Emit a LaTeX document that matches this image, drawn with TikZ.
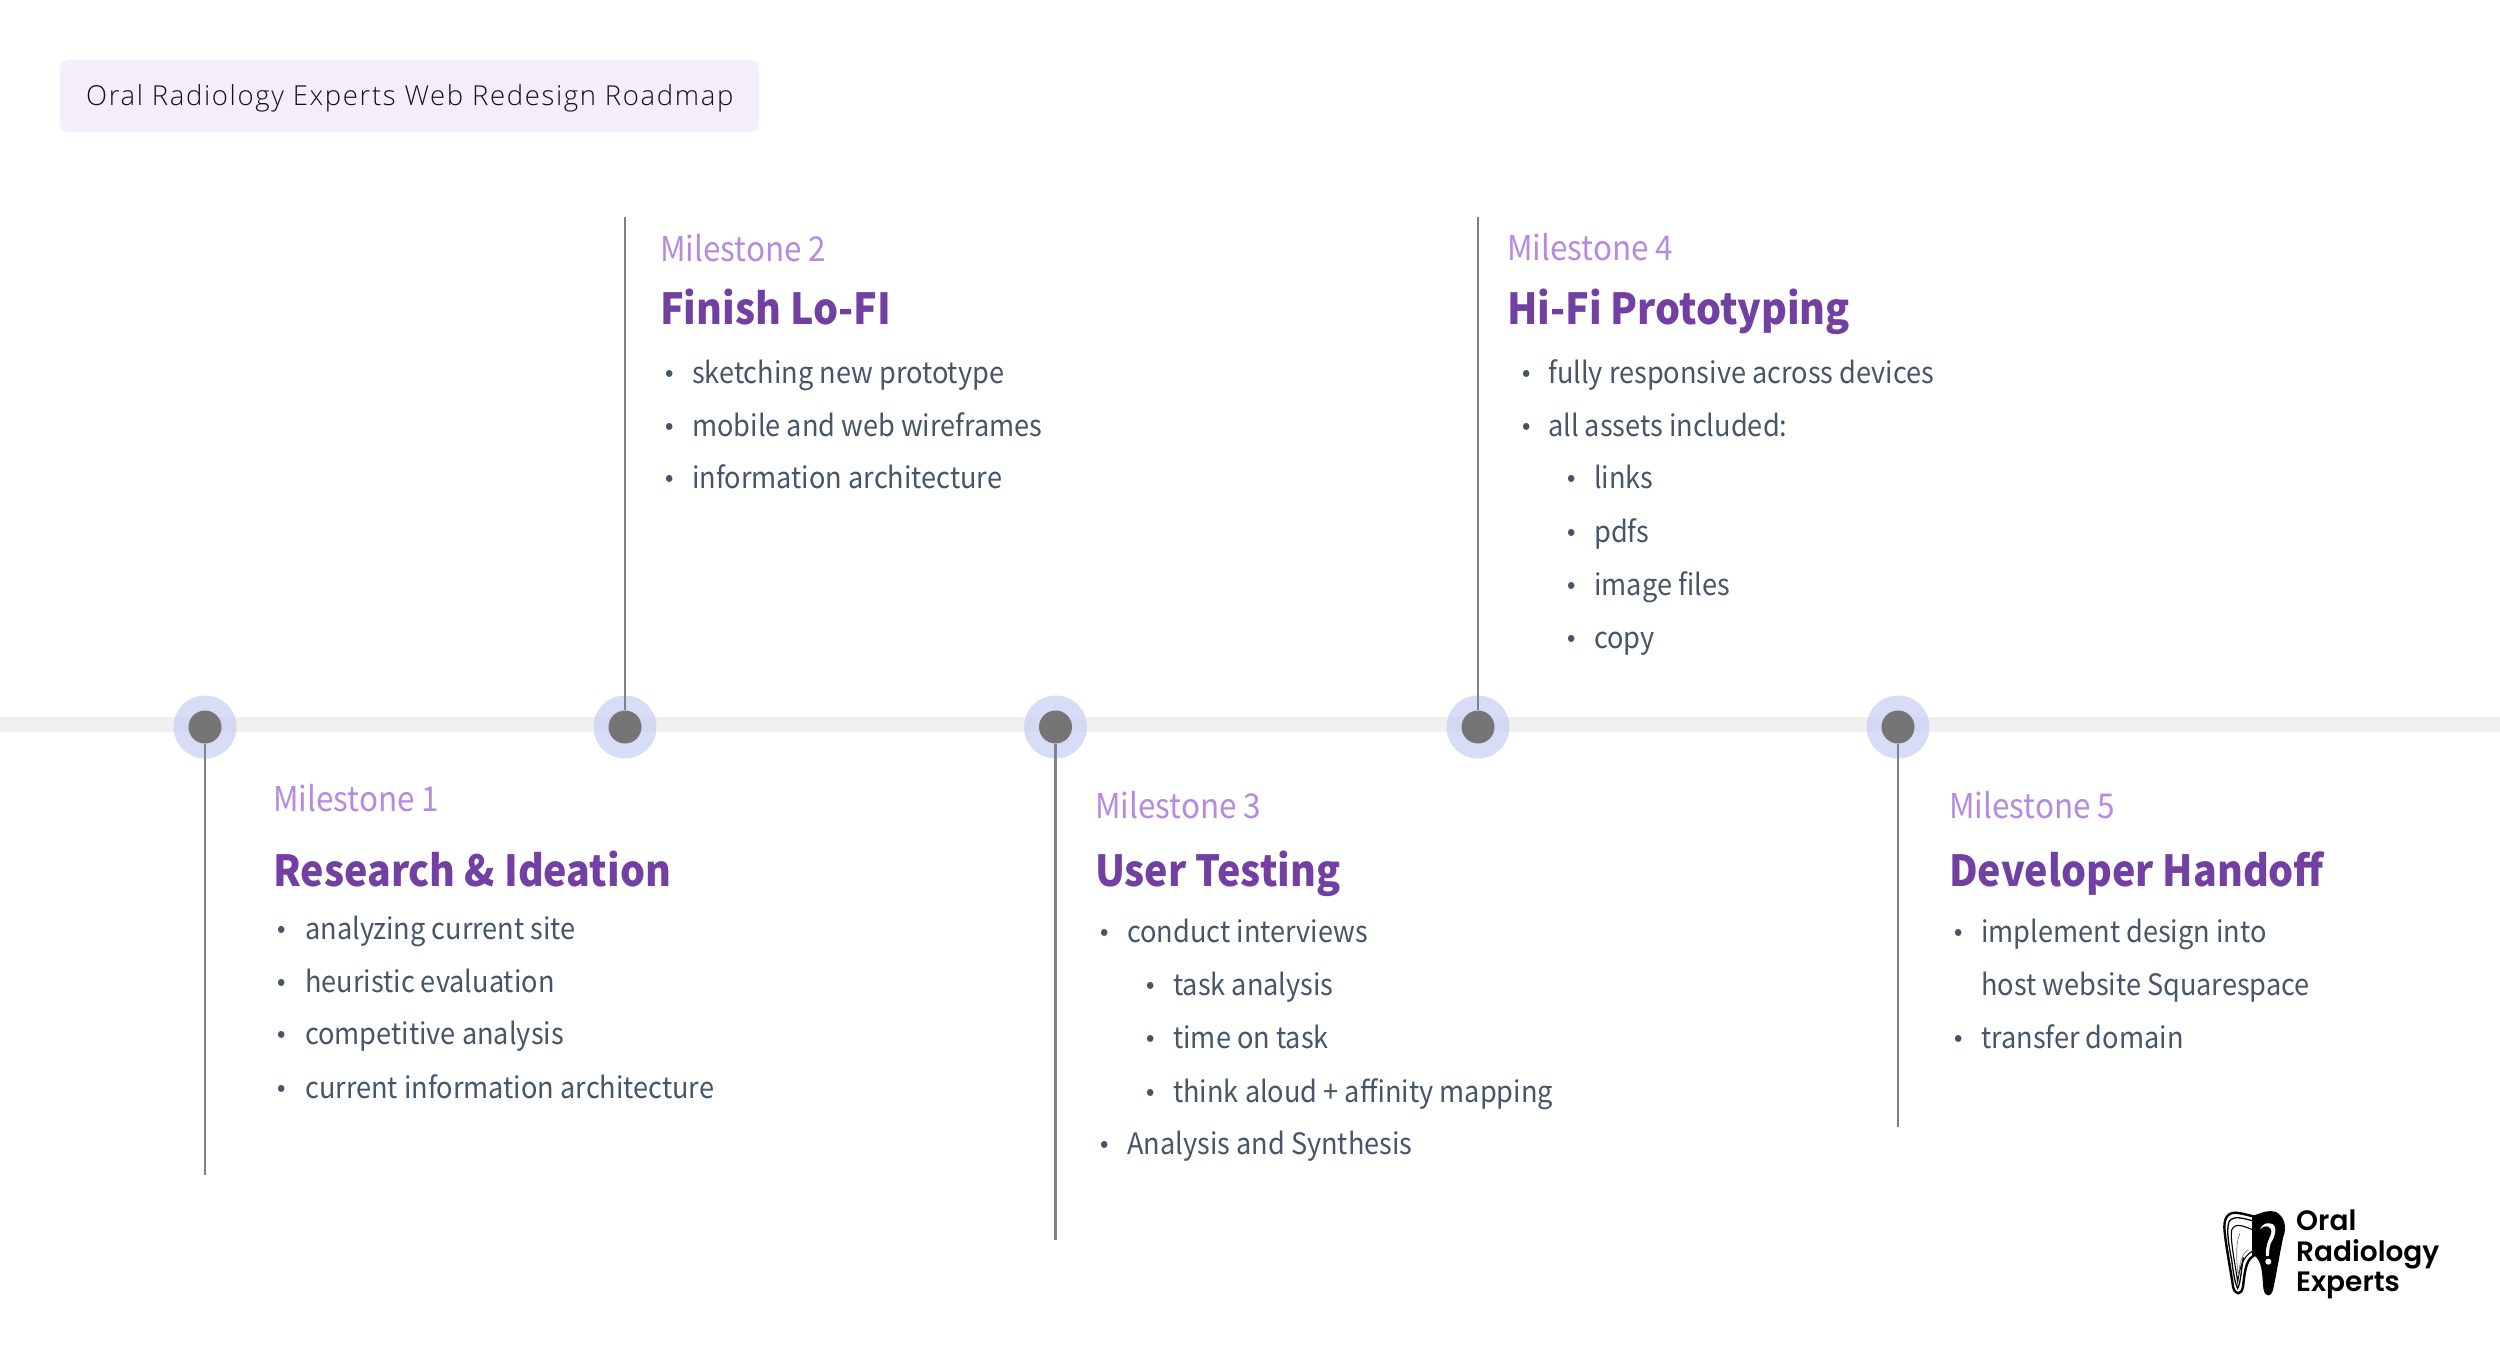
\documentclass[tikz,border=0pt]{standalone}
\usepackage{fontspec}
\setmainfont[FakeStretch=0.92]{Noto Sans CJK SC}
\newfontfamily\hdfont[LetterSpace=6]{Open Sans Light}
\newfontfamily\logofont{Poppins SemiBold}
\definecolor{bandc}{HTML}{F0F0F0}
\definecolor{haloc}{HTML}{C3CBF4}
\definecolor{dotc}{HTML}{757575}
\definecolor{linec}{HTML}{828282}
\definecolor{labelc}{HTML}{B58AE0}
\definecolor{headc}{HTML}{7240A3}
\definecolor{bodyc}{HTML}{465569}
\definecolor{boxc}{HTML}{F4EEFB}
\newcounter{tn}
\newcommand{\itm}[4]{% bullet x, text x, baseline y, text
  \stepcounter{tn}%
  \node[bul] (b\arabic{tn}) at (#1,#3+3) {•};
  \node[bod] (t\arabic{tn}) at (#2,#3) {#4};
}
\tikzset{
  halo/.style={circle,fill=haloc,fill opacity=.65,minimum size=63,inner sep=0},
  dot/.style={circle,fill=dotc,minimum size=33,inner sep=0},
  stem/.style={draw=linec,line width=2.4},
  lab/.style={anchor=base west,inner sep=0,text=labelc,font=\fontsize{34.2}{32}\selectfont},
  head/.style={anchor=base west,inner sep=0,text=headc,font=\fontsize{42.8}{44}\selectfont\bfseries},
  bod/.style={anchor=base west,inner sep=0,text=bodyc,font=\fontsize{29.5}{30}\selectfont},
  bul/.style={anchor=base,inner sep=0,text=bodyc,font=\fontsize{33}{30}\selectfont},
  logot/.style={anchor=base west,inner sep=0,text=black,font=\fontsize{28}{28}\logofont},
}
\begin{document}
\begin{tikzpicture}[x=1pt,y=-1pt]
\useasboundingbox (0,0) rectangle (2500,1359);
\fill[white] (0,0) rectangle (2500,1359);
\fill[bandc] (0,717) rectangle (2500,732);
\fill[boxc,rounded corners=9] (60,60) rectangle (759,132);
\node[anchor=base west,inner sep=0,text=black!92!boxc,font=\fontsize{27.5}{27}\hdfont] (title) at (86,106) {Oral Radiology Experts Web Redesign Roadmap};
% timeline markers
\foreach \n/\x in {1/205,2/625,3/1055.5,4/1478,5/1898}{
  \node[halo] (h\n) at (\x,727) {};
  \node[dot] (d\n) at (\x,727) {};
}
\coordinate (e1) at (205,1175);
\coordinate (e2) at (625,217);
\coordinate (e3) at (1055.5,1240);
\coordinate (e4) at (1478,217);
\coordinate (e5) at (1898,1127);
\foreach \n in {1,...,5}{\draw[stem] (d\n) -- (e\n);}
% Milestone 1
\node[lab] (m1) at (273,811) {Milestone 1};
\node[head] (n1) at (273,886) {Research \& Ideation};
\itm{282}{305}{939}{analyzing current site}
\itm{282}{305}{992}{heuristic evaluation}
\itm{282}{305}{1044.5}{competitive analysis}
\itm{282}{305}{1098.5}{current information architecture}
% Milestone 2
\node[lab] (m2) at (660,261.5) {Milestone 2};
\node[head] (n2) at (660,324) {Finish Lo-FI};
\itm{670}{692}{383}{sketching new prototype}
\itm{670}{692}{436}{mobile and web wireframes}
\itm{670}{692}{488}{information architecture}
% Milestone 3
\node[lab] (m3) at (1095,818) {Milestone 3};
\node[head] (n3) at (1095,886) {User Testing};
\itm{1105}{1127}{942}{conduct interviews}
\itm{1151}{1173}{995}{task analysis}
\itm{1151}{1173}{1048}{time on task}
\itm{1151}{1173}{1102}{think aloud + affinity mapping}
\itm{1105}{1127}{1154.5}{Analysis and Synthesis}
% Milestone 4
\node[lab] (m4) at (1507,260) {Milestone 4};
\node[head] (n4) at (1507,324) {Hi-Fi Prototyping};
\itm{1527}{1548}{383}{fully responsive across devices}
\itm{1527}{1548}{436}{all assets included:}
\itm{1572}{1594}{488}{links}
\itm{1572}{1594}{542}{pdfs}
\itm{1572}{1594}{595}{image files}
\itm{1572}{1594}{648}{copy}
% Milestone 5
\node[lab] (m5) at (1949,818) {Milestone 5};
\node[head] (n5) at (1949,886) {Developer Handoff};
\itm{1959}{1981}{942}{implement design into}
\node[bod] (t99) at (1981,995) {host website Squarespace};
\itm{1959}{1981}{1048}{transfer domain}
% logo
\node[logot] (l1) at (2296,1230) {Oral};
\node[logot] (l2) at (2296,1261) {Radiology};
\node[logot] (l3) at (2296,1291) {Experts};
\begin{scope}[shift={(2200,1180)},x=0.3333pt,y=-0.3333pt]
  % left half: outlined enamel
  \path[draw=black,line width=2.4,fill=white] (160,109) .. controls (130,102) and (112,96) .. (97,99) .. controls (74,105) and (70,130) .. (75,165) .. controls (80,210) and (92,270) .. (99,320) .. controls (104,343) and (123,350) .. (129,320) .. controls (133,290) and (135,240) .. (160,228) -- cycle;
  \path[draw=black,line width=1.3] (160,123) .. controls (130,115) and (100,105) .. (87,125) .. controls (78,150) and (87,200) .. (95,240) .. controls (100,280) and (105,310) .. (113,325) .. controls (122,310) and (125,260) .. (130,232);
  \path[draw=black,line width=1.1] (160,150) .. controls (135,140) and (105,125) .. (95,150) .. controls (90,180) and (105,250) .. (113,305) .. controls (118,270) and (125,230) .. (160,212);
  \path[draw=black!50,line width=.7] (120,160) .. controls (105,190) and (110,250) .. (115,290);
  \path[draw=black!50,line width=.7] (145,210) .. controls (125,220) and (118,250) .. (116,285);
  % right half: solid
  \fill[black] (160,107) .. controls (180,100) and (205,88) .. (228,96) .. controls (252,108) and (262,140) .. (250,170) .. controls (240,215) and (228,290) .. (220,325) .. controls (215,352) and (195,355) .. (190,325) .. controls (186,285) and (188,240) .. (160,225) -- cycle;
  \fill[white] (180,148) .. controls (185,135) and (197,128) .. (207,130) .. controls (235,130) and (228,165) .. (212,190) .. controls (207,205) and (208,220) .. (206,228) -- (198,228) .. controls (195,205) and (203,185) .. (212,165) .. controls (220,150) and (208,138) .. (200,139) .. controls (192,138) and (185,142) .. (180,148) -- cycle;
  \fill[white] (205,245) circle (9);
\end{scope}
\end{tikzpicture}
\end{document}
